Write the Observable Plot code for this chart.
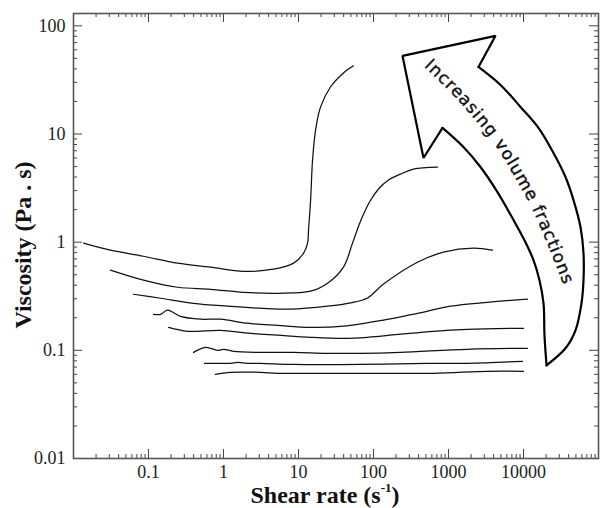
<!DOCTYPE html>
<html><head><meta charset="utf-8">
<script src="https://cdn.jsdelivr.net/npm/d3@7"></script>
<script src="https://cdn.jsdelivr.net/npm/@observablehq/plot@0.6"></script>
<style>html,body{margin:0;padding:0;background:#fff} svg{display:block}</style>
</head><body><div id="chart"></div>
<script>
// ---- data: shear rate (1/s) and viscosity (Pa.s), lowest to highest volume fraction ----
const rate1 = [0.782, 1.24, 3.11, 5.25, 24.4, 67.1, 631, 3311, 10000];
const visc1 = [0.060, 0.0626, 0.0626, 0.0613, 0.0613, 0.0613, 0.0613, 0.064, 0.064];
const rate2 = [0.558, 0.912, 1.24, 1.54, 2.09, 3.11, 8.58, 67.1, 525, 1791, 9700];
const visc2 = [0.0758, 0.0758, 0.0758, 0.0774, 0.0758, 0.0758, 0.0742, 0.0742, 0.0758, 0.0758, 0.0791];
const rate3 = [0.398, 0.575, 0.832, 1.0, 1.36, 3.11, 8.58, 24.4, 67.1, 229, 1791, 11300];
const visc3 = [0.0958, 0.1066, 0.100, 0.1023, 0.0979, 0.0958, 0.0958, 0.0938, 0.0938, 0.0958, 0.1023, 0.1044];
const rate4 = [0.185, 0.331, 0.912, 2.09, 5.25, 14.5, 39.8, 83.2, 229, 631, 1791, 10000];
const visc4 = [0.163, 0.150, 0.153, 0.144, 0.138, 0.132, 0.129, 0.132, 0.141, 0.150, 0.156, 0.160];
const rate5 = [0.117, 0.145, 0.179, 0.267, 0.494, 0.912, 2.09, 5.25, 14.5, 39.8, 136, 386, 1063, 3311, 11300];
const visc5 = [0.215, 0.215, 0.235, 0.206, 0.194, 0.194, 0.178, 0.170, 0.163, 0.167, 0.190, 0.220, 0.256, 0.278, 0.297];
const rate6 = [0.0631, 0.145, 0.398, 1.13, 3.11, 7.82, 24.4, 49.4, 83.2, 136, 386, 858, 2154, 3862];
const visc6 = [0.330, 0.303, 0.272, 0.256, 0.245, 0.240, 0.256, 0.275, 0.305, 0.410, 0.653, 0.808, 0.880, 0.843];
const rate7 = [0.0311, 0.0858, 0.244, 0.671, 1.85, 5.25, 14.5, 24.4, 39.8, 52.5, 67.1, 88.5, 116.6, 158.5, 229, 341, 713];
const visc7 = [0.551, 0.445, 0.383, 0.367, 0.344, 0.337, 0.352, 0.417, 0.588, 0.98, 1.56, 2.35, 3.10, 3.75, 4.26, 4.74, 4.95];
const rate8 = [0.0136, 0.0311, 0.0858, 0.244, 0.671, 1.85, 4.64, 8.58, 11.7, 13.2, 13.6, 14.5, 15.4, 16.9, 19.7, 26.7, 39.8, 54.1];
const visc8 = [0.98, 0.843, 0.741, 0.640, 0.588, 0.538, 0.562, 0.640, 0.791, 0.98, 1.29, 2.45, 5.74, 10.9, 17.8, 27.2, 36.7, 42.7];

// ---- annotation arrow (in data coordinates) ----
const arrowHeadRate = [832, 464, 243.8, 4236, 2512];
const arrowHeadVisc = [11.4, 6.0, 52.7, 80.8, 41.7];
const arrowOuterRate = [2512, 4937, 9120, 15850, 25120, 36310, 46420, 57540, 63100, 63100, 59300, 49340, 36310, 20280];
const arrowOuterVisc = [41.7, 28.4, 17.8, 11.4, 6.67, 4.00, 2.45, 1.38, 0.791, 0.445, 0.272, 0.153, 0.1044, 0.0726];
const arrowInnerRate = [20280, 19050, 18490, 16330, 13590, 10310, 7360, 4500, 2670, 1537, 832];
const arrowInnerVisc = [0.0726, 0.138, 0.272, 0.445, 0.681, 1.04, 1.60, 2.90, 4.95, 7.74, 11.4];
const arrowTextRate = [478.6, 1490, 4365, 7820, 13180, 22910, 37430];
const arrowTextVisc = [41.7, 18.97, 7.58, 3.92, 2.02, 0.826, 0.344];
const arrowText = "Increasing volume fractions";

// ---- ticks ----
const xMajor = [0.01, 0.1, 1, 10, 100, 1000, 10000, 100000];
const xLabeled = [0.1, 1, 10, 100, 1000, 10000];
const yMajor = [0.01, 0.1, 1, 10, 100];
const yLabeled = [0.01, 0.1, 1, 10, 100];
const xLabel = "Shear rate (s";
const yLabel = "Viscosity (Pa . s)";

const minorOf = (majors, max) => majors.flatMap(m => [2,3,4,5,6,7,8,9].map(k => k * m)).filter(v => v < max);
const xMinor = minorOf(xMajor, 100000);
const yMinor = minorOf(yMajor, 130);

const series = [[rate1,visc1],[rate2,visc2],[rate3,visc3],[rate4,visc4],[rate5,visc5],[rate6,visc6],[rate7,visc7],[rate8,visc8]];
const lineData = series.flatMap(([r, v], i) => r.map((x, j) => ({rate: x, visc: v[j], id: i})));
const toPts = (r, v) => r.map((x, i) => ({rate: x, visc: v[i]}));

const W = 601, H = 508, mL = 73, mR = 3, mT = 13, mB = 50;
const fw = W - mL - mR, fh = H - mT - mB;
const tickColor = "#444";

const plot = Plot.plot({
  width: W, height: H,
  marginLeft: mL, marginRight: mR, marginTop: mT, marginBottom: mB,
  style: {fontFamily: "'Liberation Serif', 'Times New Roman', serif", fontSize: "18px", background: "#fff", color: "#111"},
  x: {type: "log", domain: [0.01, 100000]},
  y: {type: "log", domain: [0.01, 130]},
  marks: [
    Plot.tickX(xMinor, {x: d => d, insetTop: fh - 4, stroke: tickColor}),
    Plot.tickX(xMinor, {x: d => d, insetBottom: fh - 4, stroke: tickColor}),
    Plot.tickX(xMajor, {x: d => d, insetTop: fh - 9, stroke: tickColor}),
    Plot.tickX(xMajor, {x: d => d, insetBottom: fh - 9, stroke: tickColor}),
    Plot.tickY(yMinor, {y: d => d, insetRight: fw - 4, stroke: tickColor}),
    Plot.tickY(yMinor, {y: d => d, insetLeft: fw - 4, stroke: tickColor}),
    Plot.tickY(yMajor, {y: d => d, insetRight: fw - 9, stroke: tickColor}),
    Plot.tickY(yMajor, {y: d => d, insetLeft: fw - 9, stroke: tickColor}),
    Plot.axisX(xLabeled, {anchor: "bottom", tickSize: 0, tickPadding: 7, tickFormat: d => String(d), fontSize: 18, fill: "#222", label: null}),
    Plot.axisY(yLabeled, {anchor: "left", tickSize: 0, tickPadding: 8, tickFormat: d => String(d), fontSize: 18, fill: "#222", label: null}),
    Plot.line(lineData, {x: "rate", y: "visc", z: "id", curve: "catmull-rom", stroke: "#111", strokeWidth: 1.25}),
    Plot.line(toPts(arrowHeadRate, arrowHeadVisc), {x: "rate", y: "visc", stroke: "#000", strokeWidth: 2.2, strokeLinejoin: "miter"}),
    Plot.line(toPts(arrowOuterRate, arrowOuterVisc), {x: "rate", y: "visc", curve: "catmull-rom", stroke: "#000", strokeWidth: 2.2}),
    Plot.line(toPts(arrowInnerRate, arrowInnerVisc), {x: "rate", y: "visc", curve: "catmull-rom", stroke: "#000", strokeWidth: 2.2}),
    Plot.frame({stroke: "#555", strokeWidth: 1.6})
  ]
});
document.getElementById("chart").appendChild(plot);

const svg = d3.select(plot);
const sx = plot.scale("x"), sy = plot.scale("y");
const tpts = arrowTextRate.map((r, i) => [sx.apply(r), sy.apply(arrowTextVisc[i])]);
svg.append("defs").append("path")
  .attr("id", "arrowTextPath")
  .attr("fill", "none")
  .attr("d", d3.line().curve(d3.curveCatmullRom)(tpts));
svg.append("text")
  .attr("font-family", "'DejaVu Sans', Verdana, sans-serif")
  .attr("font-size", 17)
  .attr("letter-spacing", 1)
  .attr("text-anchor", "start")
  .attr("fill", "#111")
  .attr("stroke", "#111")
  .attr("stroke-width", 0.4)
  .append("textPath")
  .attr("href", "#arrowTextPath")
  .attr("startOffset", 0)
  .attr("text-anchor", "start")
  .text(arrowText);

svg.append("text")
  .attr("transform", "translate(31,245) rotate(-90)")
  .attr("text-anchor", "middle")
  .attr("font-weight", "bold")
  .attr("font-size", 24)
  .attr("fill", "#111")
  .text(yLabel);

const xl = svg.append("text")
  .attr("x", 325).attr("y", 503)
  .attr("text-anchor", "middle")
  .attr("font-weight", "bold")
  .attr("font-size", 24)
  .attr("fill", "#111");
xl.append("tspan").text(xLabel);
xl.append("tspan").attr("font-size", 13).attr("dy", -11).text("-1");
xl.append("tspan").attr("dy", 11).text(")");
</script>
</body></html>
